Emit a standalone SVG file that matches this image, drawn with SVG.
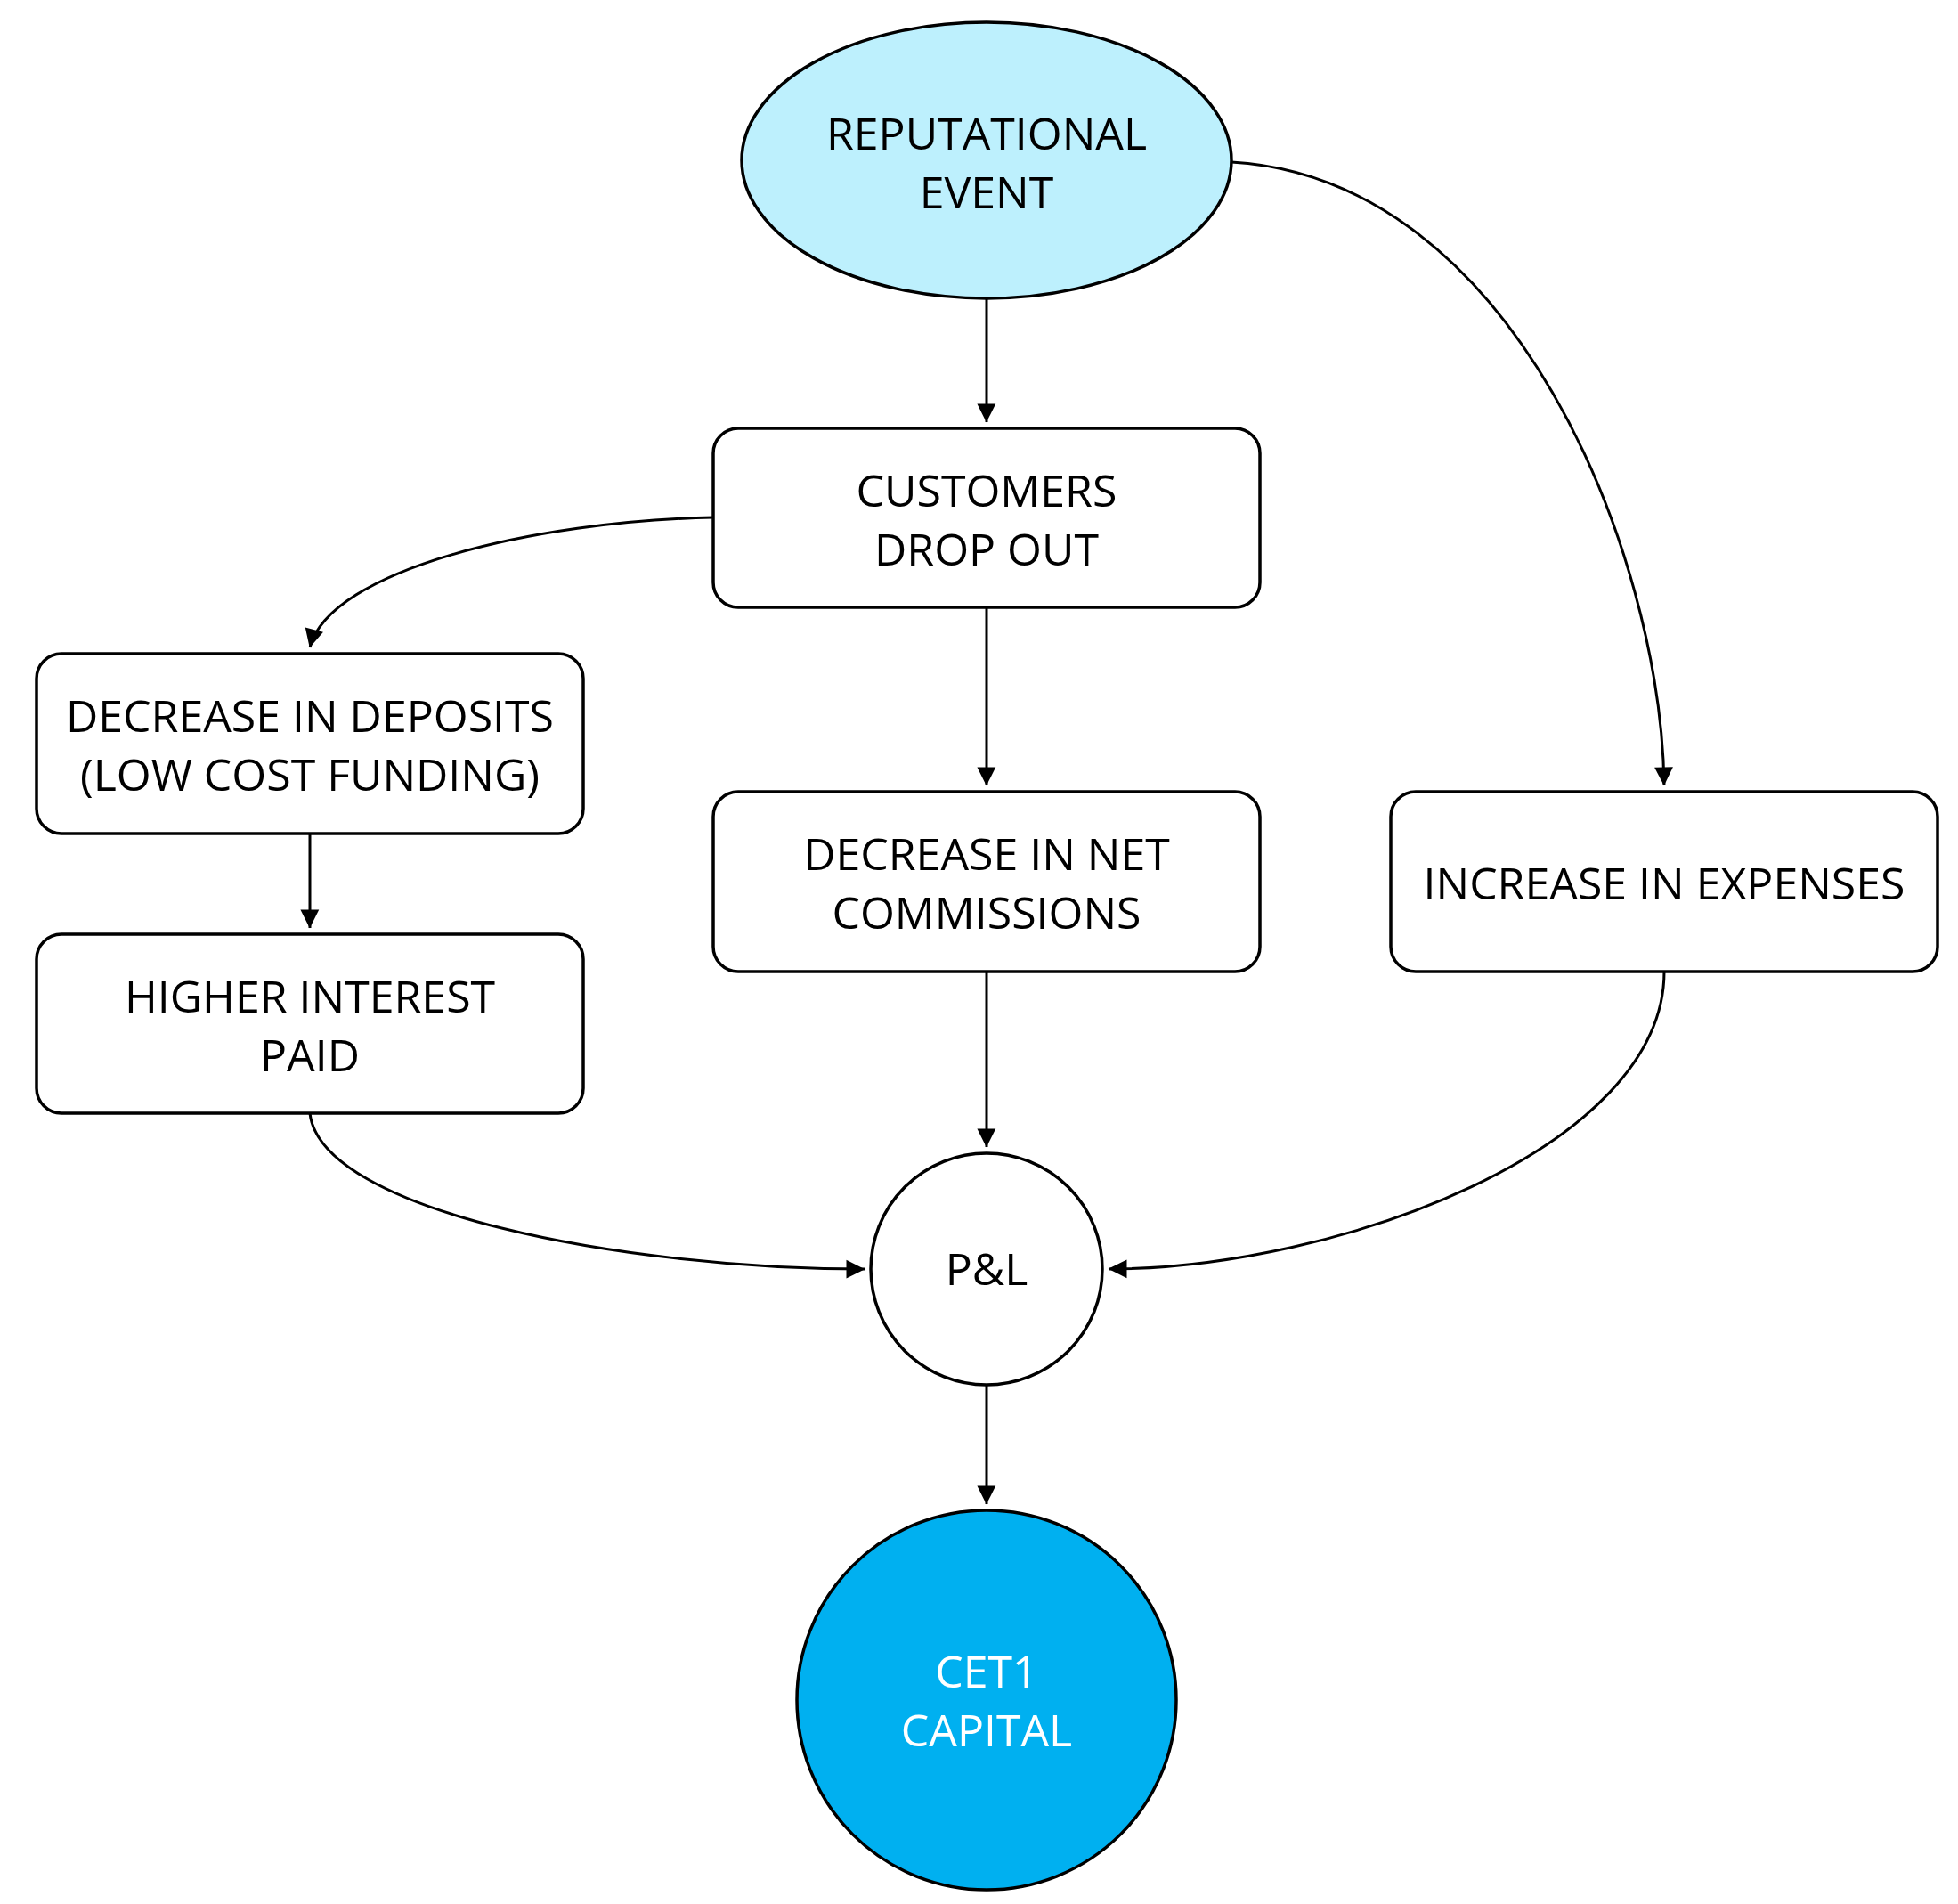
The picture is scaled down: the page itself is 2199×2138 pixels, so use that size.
<svg xmlns="http://www.w3.org/2000/svg" width="2199" height="2138" viewBox="0 0 2199 2138">
<style>
.n{fill:#fff;stroke:#000;stroke-width:3.5}
.t{font-family:"Open Sans","Noto Sans",sans-serif;font-size:50px;text-anchor:middle;fill:#000}
.c{fill:none;stroke:#000;stroke-width:3}
</style>
<defs><marker id="a" viewBox="0 0 10 10" refX="10" refY="5" markerWidth="8" markerHeight="8" markerUnits="userSpaceOnUse" orient="auto" style="overflow:visible"><path d="M0,0L10,5L0,10z" transform="scale(2.6) translate(-6,-3)"/></marker></defs>
<rect width="2199" height="2138" fill="#fff"/>
<g id="connectors">
<path class="c" d="M1108,335V474" marker-end="url(#a)"/>
<path class="c" d="M801,581C600,585 370,640 348,727" marker-end="url(#a)"/>
<path class="c" d="M1108,682V882" marker-end="url(#a)"/>
<path class="c" d="M1383,182C1700,200 1865,620 1869,882" marker-end="url(#a)"/>
<path class="c" d="M348,936V1042" marker-end="url(#a)"/>
<path class="c" d="M348,1250C360,1360 700,1425 971,1425" marker-end="url(#a)"/>
<path class="c" d="M1108,1091V1288" marker-end="url(#a)"/>
<path class="c" d="M1869,1091C1869,1290 1500,1425 1245,1425" marker-end="url(#a)"/>
<path class="c" d="M1108,1555V1689" marker-end="url(#a)"/>
</g>
<g id="reputational"><ellipse cx="1108" cy="180" rx="275" ry="155" class="n" style="fill:#bdf0fd"/><text class="t" x="1108" y="168">REPUTATIONAL</text><text class="t" x="1108" y="234">EVENT</text></g>
<g id="customers"><rect x="801" y="481" width="614" height="201" rx="28" class="n"/><text class="t" x="1108" y="569">CUSTOMERS</text><text class="t" x="1108" y="635">DROP OUT</text></g>
<g id="deposits"><rect x="41" y="734" width="614" height="202" rx="28" class="n"/><text class="t" x="348" y="822">DECREASE IN DEPOSITS</text><text class="t" x="348" y="888">(LOW COST FUNDING)</text></g>
<g id="interest"><rect x="41" y="1049" width="614" height="201" rx="28" class="n"/><text class="t" x="348" y="1137">HIGHER INTEREST</text><text class="t" x="348" y="1203">PAID</text></g>
<g id="commissions"><rect x="801" y="889" width="614" height="202" rx="28" class="n"/><text class="t" x="1108" y="977">DECREASE IN NET</text><text class="t" x="1108" y="1043">COMMISSIONS</text></g>
<g id="expenses"><rect x="1562" y="889" width="614" height="202" rx="28" class="n"/><text class="t" x="1869" y="1010">INCREASE IN EXPENSES</text></g>
<g id="pl"><circle cx="1108" cy="1425" r="130" class="n"/><text class="t" x="1108" y="1443">P&amp;L</text></g>
<g id="cet1"><circle cx="1108" cy="1909" r="213" class="n" style="fill:#00b0f0"/><text class="t" x="1108" y="1895" style="fill:#fff">CET1</text><text class="t" x="1108" y="1961" style="fill:#fff">CAPITAL</text></g>
</svg>
